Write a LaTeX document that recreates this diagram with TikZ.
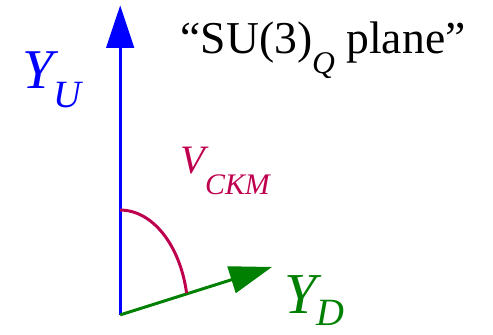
\documentclass[tikz,border=0pt]{standalone}
\usepackage{fontspec}
\setmainfont{Liberation Serif}
\usetikzlibrary{arrows.meta}
\definecolor{ckmred}{rgb}{0.75,0,0.31}
\definecolor{ydgreen}{rgb}{0,0.5,0}

\begin{document}
\begin{tikzpicture}[>={Triangle[length=8.5mm, width=5.5mm]},
  axis/.style={->, line width=1.7pt},
  lbl/.style={anchor=base west, inner sep=0pt}]
\draw[white] (0,0) rectangle (9.86,6.68);
% axes
\coordinate (O) at (2.4,0.38);
\coordinate (Utip) at (2.4,6.58);
\coordinate (Dtip) at (5.44,1.34);
\draw[axis, blue] (O) -- (Utip);
\draw[axis, ydgreen] (O) -- (Dtip);
% mixing angle
\draw[ckmred, line width=1.7pt] (2.4,2.48) arc[start angle=90, end angle=12, x radius=1.36cm, y radius=2.1cm];
% labels
\node[lbl, blue] (yu) at (0.44,4.92) {\fontsize{32}{32}\selectfont\itshape Y\raisebox{-0.38cm}{\fontsize{22}{22}\selectfont U}};
\node[lbl, ydgreen] (yd) at (5.68,0.4) {\fontsize{33}{33}\selectfont\itshape Y\raisebox{-0.24cm}{\fontsize{22}{22}\selectfont D}};
\node[lbl, ckmred] (vckm) at (3.6,3.22) {\fontsize{23}{23}\selectfont\itshape V\raisebox{-0.42cm}{\fontsize{17}{17}\selectfont CKM}};
\node[lbl] (plane) at (3.6,5.62) {\fontsize{26}{26}\selectfont ``SU(3)\raisebox{-0.4cm}{\fontsize{18}{18}\selectfont\itshape Q} plane''};
\end{tikzpicture}
\end{document}
